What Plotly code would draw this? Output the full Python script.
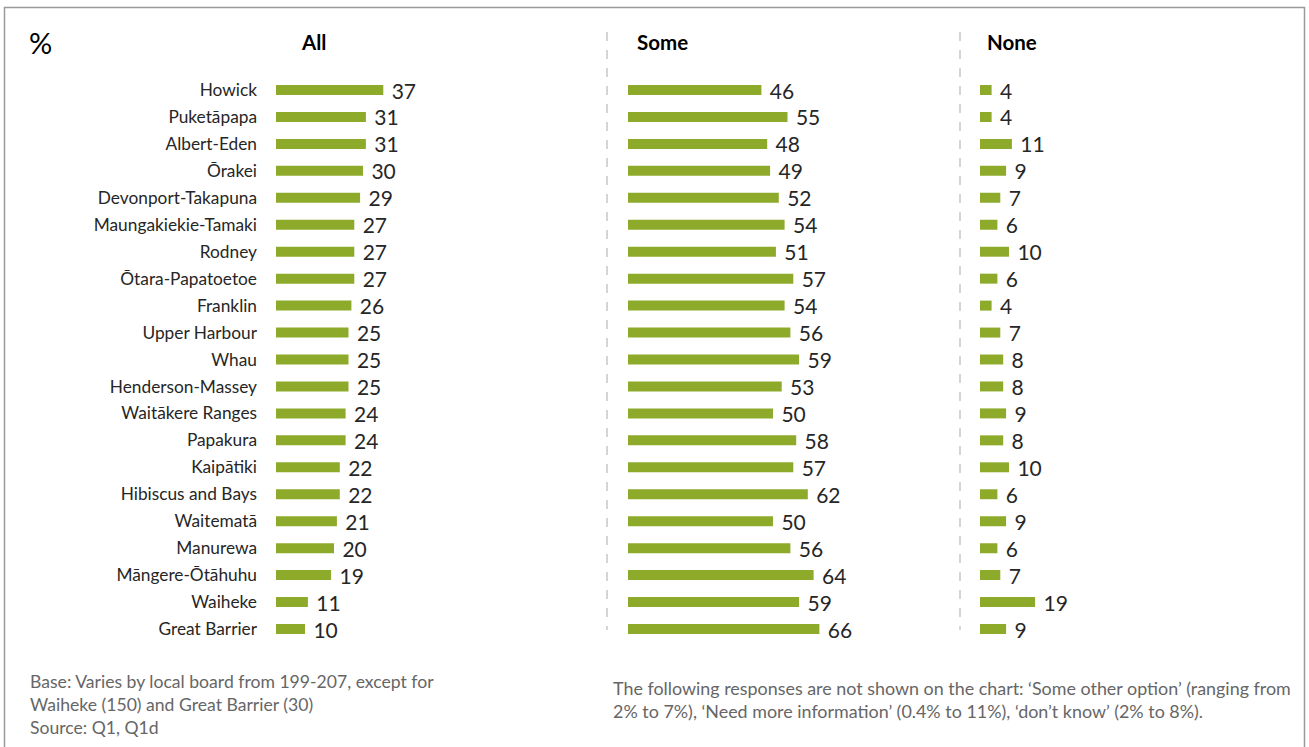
import plotly.graph_objects as go

# Local boards, in display order (top to bottom)
boards = [
    "Howick", "Puketāpapa", "Albert-Eden", "Ōrakei", "Devonport-Takapuna",
    "Maungakiekie-Tamaki", "Rodney", "Ōtara-Papatoetoe", "Franklin",
    "Upper Harbour", "Whau", "Henderson-Massey", "Waitākere Ranges",
    "Papakura", "Kaipātiki", "Hibiscus and Bays", "Waitematā", "Manurewa",
    "Māngere-Ōtāhuhu", "Waiheke", "Great Barrier",
]
all_pct = [37, 31, 31, 30, 29, 27, 27, 27, 26, 25, 25, 25, 24, 24, 22, 22, 21, 20, 19, 11, 10]
some_pct = [46, 55, 48, 49, 52, 54, 51, 57, 54, 56, 59, 53, 50, 58, 57, 62, 50, 56, 64, 59, 66]
none_pct = [4, 4, 11, 9, 7, 6, 10, 6, 4, 7, 8, 8, 9, 8, 10, 6, 9, 6, 7, 19, 9]
panel_titles = ["All", "Some", "None"]

W, H = 1309, 747
GREEN = "#8DAA2B"
FONT = "Lato"
TEXT_DARK = "#262626"
FOOT_GREY = "#666666"

def px_x(p):
    return p / W

def px_y(p):
    return 1 - p / H

# horizontal placement of each panel's zero line (pixels); 2.9 px per percentage point
panel_left = [276, 628, 980]
px_per_unit = 2.9
x_span = 100

fig = go.Figure()
series = [all_pct, some_pct, none_pct]
for i, vals in enumerate(series):
    ax = "" if i == 0 else str(i + 1)
    fig.add_trace(go.Bar(
        x=vals, y=boards, orientation="h",
        marker=dict(color=GREEN, line=dict(width=0)),
        width=0.37,
        text=vals, texttemplate=" %{x}", textposition="outside",
        constraintext="none",
        textfont=dict(family=FONT, size=21, color=TEXT_DARK),
        cliponaxis=False,
        xaxis="x" + ax, yaxis="y" + ax,
        hoverinfo="x+y", showlegend=False,
    ))

row_top, row_bottom = 90, 629
step = (row_bottom - row_top) / (len(boards) - 1)
y_dom = [px_y(row_bottom + step / 2), px_y(row_top - step / 2)]

layout = dict(
    width=W, height=H,
    margin=dict(l=0, r=0, t=0, b=0),
    paper_bgcolor="white", plot_bgcolor="white",
    font=dict(family=FONT, color=TEXT_DARK),
)
for i in range(3):
    ax = "" if i == 0 else str(i + 1)
    x0 = panel_left[i]
    layout["xaxis" + ax] = dict(
        domain=[px_x(x0), px_x(x0 + x_span * px_per_unit)],
        range=[0, x_span], visible=False, fixedrange=True,
    )
    layout["yaxis" + ax] = dict(
        domain=y_dom,
        categoryorder="array", categoryarray=boards,
        range=[len(boards) - 0.5, -0.5],
        showticklabels=(i == 0),
        tickfont=dict(family=FONT, size=17.3, color=TEXT_DARK),
        ticks="", ticklabelstandoff=18,
        showline=False, showgrid=False, zeroline=False,
        anchor="x" + ax,
    )
fig.update_layout(**layout)

# panel headings
title_x = [313, 663, 1012]
for t, xc in zip(panel_titles, title_x):
    fig.add_annotation(
        x=px_x(xc), y=px_y(42), xref="paper", yref="paper",
        text=f"<b>{t}</b>", showarrow=False,
        font=dict(family=FONT, size=20.5, color="black"),
        xanchor="center", yanchor="middle",
    )
fig.add_annotation(
    x=px_x(27), y=px_y(42), xref="paper", yref="paper",
    text="%", showarrow=False,
    font=dict(family=FONT, size=29, color="black"),
    xanchor="left", yanchor="middle",
)

# dashed panel separators
for xs in [607, 960]:
    fig.add_shape(
        type="line", xref="paper", yref="paper",
        x0=px_x(xs), x1=px_x(xs), y0=px_y(32), y1=px_y(630),
        line=dict(color="#C8C8C8", width=1.5, dash="dash"),
    )

# outer frame
fig.add_shape(
    type="rect", xref="paper", yref="paper",
    x0=px_x(4.5), x1=px_x(1304.5), y0=-0.02, y1=px_y(7.5),
    line=dict(color="#9A9A9A", width=1.5),
)

# footnotes
fig.add_annotation(
    x=px_x(28), y=px_y(669), xref="paper", yref="paper",
    text="Base: Varies by local board from 199-207, except for<br>"
         "Waiheke (150) and Great Barrier (30)<br>Source: Q1, Q1d",
    showarrow=False, align="left", xanchor="left", yanchor="top",
    font=dict(family=FONT, size=17.6, color=FOOT_GREY),
)
fig.add_annotation(
    x=px_x(611), y=px_y(675), xref="paper", yref="paper",
    text="The following responses are not shown on the chart: ‘Some other option’ (ranging from<br>"
         "2% to 7%), ‘Need more information’ (0.4% to 11%), ‘don’t know’ (2% to 8%).",
    showarrow=False, align="left", xanchor="left", yanchor="top",
    font=dict(family=FONT, size=17.9, color=FOOT_GREY),
)

fig.write_html("out.html")
